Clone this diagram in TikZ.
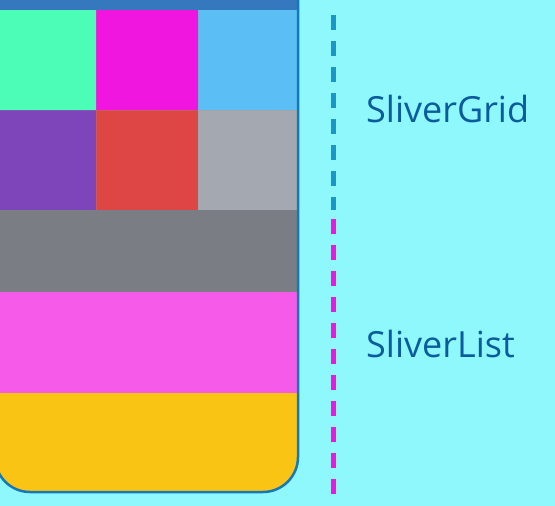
\documentclass[tikz,border=0pt]{standalone}
\usepackage{fontspec}
\setmainfont{Open Sans}
\definecolor{bg}{HTML}{8EF8FC}
\definecolor{topbar}{HTML}{3578BD}
\definecolor{cmint}{HTML}{4BFDB7}
\definecolor{cmag}{HTML}{F016E0}
\definecolor{clblue}{HTML}{5BBFF5}
\definecolor{cpurple}{HTML}{7E45BA}
\definecolor{cred}{HTML}{DE4545}
\definecolor{clgray}{HTML}{A4A8B0}
\definecolor{cdgray}{HTML}{7A7D84}
\definecolor{cpink}{HTML}{F55BE8}
\definecolor{cyellow}{HTML}{FAC415}
\definecolor{border}{HTML}{1778B8}
\definecolor{txt}{HTML}{0B5C9C}
\definecolor{bdash}{HTML}{1A96C8}
\begin{document}
\begin{tikzpicture}[x=1pt,y=-1pt,
  cell/.style={draw=white!60!black,draw opacity=0.25,line width=0.6pt},
  lbl/.style={text=txt,font=\fontsize{36}{42}\selectfont,anchor=west,inner sep=0pt},
  dashline/.style={line width=5pt,dash pattern=on 15pt off 11pt}]
\useasboundingbox (0,0) rectangle (555,506);
\fill[bg] (0,0) rectangle (555,506);
\begin{scope}
\clip (-5,0) -- (298,0) -- (298,457) arc[start angle=0,end angle=90,radius=35] -- (30,492) arc[start angle=90,end angle=180,radius=35] -- cycle;
\fill[cmint] (0,10) rectangle (96,110);
\fill[cmag] (96,10) rectangle (198,110);
\fill[clblue] (198,10) rectangle (298,110);
\fill[cpurple] (0,110) rectangle (96,210);
\fill[cred] (96,110) rectangle (198,210);
\fill[clgray] (198,110) rectangle (298,210);
\fill[cdgray] (0,210) rectangle (298,292);
\fill[cpink] (0,292) rectangle (298,393);
\fill[cyellow] (0,393) rectangle (298,500);
\fill[topbar] (0,0) rectangle (298,10);
\draw[cell] (96,10) -- (96,210) (198,10) -- (198,210) (0,110) -- (298,110);
\end{scope}
\draw[border,line width=2.5pt] (298,0) -- (298,457) arc[start angle=0,end angle=90,radius=35] -- (30,492) arc[start angle=90,end angle=180,radius=35];
\coordinate (b1) at (333,15);
\coordinate (b2) at (333,210);
\coordinate (p1) at (333,219);
\coordinate (p2) at (333,498);
\draw[dashline,bdash] (b1) -- (b2);
\draw[dashline,cmag] (p1) -- (p2);
\node[lbl] (grid) at (366,109) {SliverGrid};
\node[lbl] (list) at (366,344) {SliverList};
\end{tikzpicture}
\end{document}
